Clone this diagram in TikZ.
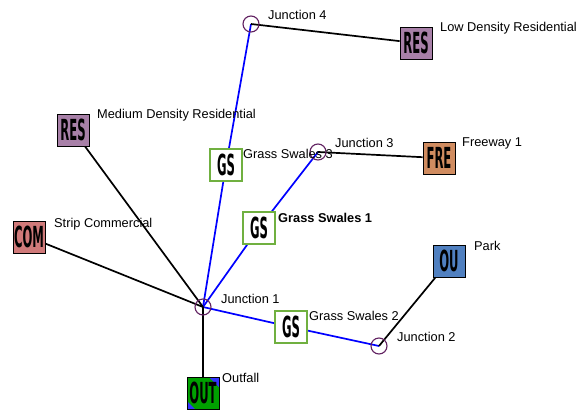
\documentclass[tikz,border=0pt]{standalone}
\usepackage{fontspec}
\setmainfont{Liberation Sans}
\newfontfamily\boxfont{DejaVu Sans}
\usetikzlibrary{backgrounds}

\definecolor{rescol}{RGB}{168,128,168}
\definecolor{frecol}{RGB}{208,140,96}
\definecolor{comcol}{RGB}{208,122,122}
\definecolor{parkcol}{RGB}{80,128,192}
\definecolor{outcol}{RGB}{0,160,0}
\definecolor{gsgreen}{RGB}{112,176,64}
\definecolor{jcol}{RGB}{96,32,96}

\newcommand\sq[1]{\scalebox{0.4}[1]{#1}}

\tikzset{
  junction/.style={circle, draw=jcol, line width=1.1pt, minimum size=16pt, inner sep=0pt},
  sub/.style={draw=black, line width=0.8pt, minimum size=32pt, inner sep=0pt,
    font=\boxfont\bfseries\fontsize{29}{29}\selectfont},
  lid/.style={sub, fill=white, draw=gsgreen, line width=1.6pt},
  lbl/.style={anchor=base west, inner sep=0pt, font=\fontsize{12.8}{15}\selectfont},
  conduit/.style={draw=blue, line width=1.7pt},
  link/.style={draw=black, line width=1.7pt}
}

\begin{document}
\begin{tikzpicture}[x=1pt, y=-1pt]
            \useasboundingbox (0,0) rectangle (581,410);

            % Define junctions
            \node[junction] (j1) at (203,307) {};
            \node[junction] (j2) at (379,346) {};
            \node[junction] (j3) at (318,152) {};
            \node[junction] (j4) at (251,24) {};

            % Define subcatchments
            \node[sub, fill=rescol] (reslow) at (416,43) {\sq{RES}};
            \node[sub, fill=rescol] (resmed) at (73,130) {\sq{RES}};
            \node[sub, fill=frecol] (fre) at (439,158) {\sq{FRE}};
            \node[sub, fill=comcol] (com) at (29,237) {\sq{COM}};
            \node[sub, fill=parkcol] (park) at (449,261) {\sq{OU}};
            \node[sub, fill=outcol, path picture={
                \fill[blue!80] (path picture bounding box.north east) -- ++(-10pt,0) -- ++(10pt,-10pt) -- cycle;
                \fill[blue!80] (path picture bounding box.south west) -- ++(8pt,0) -- ++(-8pt,8pt) -- cycle;
              }] (out) at (203,393) {\sq{OUT}};

            % Define grass swales
            \node[lid] (gs1) at (259,228) {\sq{GS}};
            \node[lid] (gs2) at (291,327) {\sq{GS}};
            \node[lid] (gs3) at (226,165) {\sq{GS}};

            % Draw links
            \begin{scope}[on background layer]
            \draw[conduit] (j4.center) -- (gs3.center) -- (j1.center);
            \draw[conduit] (j3.center) -- (gs1.center) -- (j1.center);
            \draw[conduit] (j1.center) -- (gs2.center) -- (j2.center);
            \draw[link] (j4.center) -- (reslow);
            \draw[link] (j3.center) -- (fre);
            \draw[link] (j2.center) -- (park);
            \draw[link] (resmed) -- (j1.center);
            \draw[link] (com) -- (j1.center);
            \draw[link] (j1.center) -- (out);
            \end{scope}

            % Labels
            \node[lbl] (lj1) at (221,303) {Junction 1};
            \node[lbl] (lj2) at (397,341) {Junction 2};
            \node[lbl] (lj3) at (335,147) {Junction 3};
            \node[lbl] (lj4) at (268,19) {Junction 4};
            \node[lbl] (lreslow) at (440,31) {Low Density Residential};
            \node[lbl] (lresmed) at (97,118) {Medium Density Residential};
            \node[lbl] (lfre) at (462,146) {Freeway 1};
            \node[lbl] (lcom) at (54,227) {Strip Commercial};
            \node[lbl] (lpark) at (474,250) {Park};
            \node[lbl] (lout) at (222,382) {Outfall};
            \node[lbl, font=\fontsize{12.8}{15}\selectfont\bfseries] (lgs1) at (278,222) {Grass Swales 1};
            \node[lbl] (lgs2) at (309,320) {Grass Swales 2};
            \node[lbl] (lgs3) at (243,158) {Grass Swales 3};
        \end{tikzpicture}
\end{document}
